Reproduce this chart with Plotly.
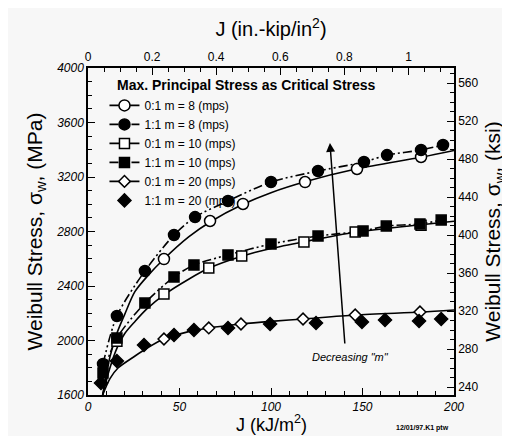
import plotly.graph_objects as go

# J in kJ/m^2, Weibull stress in MPa
j_c8_11 = [8.2, 15.8, 31.1, 47, 58.5, 76.5, 100, 125.7, 150.8, 163.4, 182, 194]
s_c8_11 = [1828, 2180, 2510, 2774, 2906, 3024, 3163, 3244, 3310, 3361, 3398, 3435]

j_o8_01 = [41.5, 66.7, 84.7, 118.6, 147, 182]
s_o8_01 = [2598, 2877, 3002, 3163, 3259, 3347]
fit_j8 = [8, 12, 16, 20, 25.7, 33, 41.5, 55, 66.7, 84.7, 100, 118.6, 147, 182, 200]
fit_s8 = [1600, 1880, 2060, 2190, 2360, 2480, 2598, 2760, 2870, 3000, 3085, 3165, 3260, 3345, 3395]

j_sq_11 = [8.2, 15.8, 31.1, 47, 57.9, 76.5, 100, 125.7, 150.3, 163, 181.4, 193]
s_sq_11 = [1761, 2018, 2275, 2466, 2554, 2628, 2708, 2767, 2804, 2840, 2855, 2884]

j_sq_01 = [15.8, 41.5, 66, 84, 118, 146, 182]
s_sq_01 = [1995, 2341, 2532, 2620, 2723, 2796, 2845]
fit_j10 = [8, 12, 16, 20, 25.7, 32, 41.5, 55, 66, 84, 100, 118, 146, 182, 200]
fit_s10 = [1600, 1800, 1950, 2050, 2140, 2230, 2335, 2450, 2530, 2618, 2675, 2725, 2795, 2850, 2875]

j_d_01 = [41.5, 66, 83.6, 117.5, 146, 181.4]
s_d_01 = [2011, 2092, 2121, 2158, 2187, 2209]
j_d_11 = [7.1, 15.8, 30.6, 47, 57.9, 76.5, 99.5, 124.6, 149.7, 162.3, 180.9, 193]
s_d_11 = [1688, 1850, 1967, 2040, 2077, 2092, 2121, 2128, 2136, 2150, 2143, 2158]
fit_j20 = [8, 12, 16.4, 25.7, 33, 41.5, 55, 66, 84, 100, 118, 146, 182, 200]
fit_s20 = [1600, 1720, 1798, 1886, 1950, 2011, 2065, 2092, 2121, 2140, 2158, 2187, 2209, 2224]

J_CONV = 175.127  # kJ/m^2 per in.-kip/in^2
KSI_RANGE = [231.6, 576]

FONT = "Arial, Liberation Sans, sans-serif"
BLK = "black"
DASHDOT = "9px,3px,2px,3px,2px,3px"

fig = go.Figure()

def curve(x, y, dash="solid"):
    fig.add_trace(go.Scatter(x=x, y=y, mode="lines", line=dict(color=BLK, width=1.6, dash=dash, shape="spline", smoothing=0.8),
                             showlegend=False, hoverinfo="skip"))

def pts(x, y, symbol, size, fill):
    fig.add_trace(go.Scatter(x=x, y=y, mode="markers", showlegend=False,
                             marker=dict(symbol=symbol, size=size, color=fill, line=dict(color=BLK, width=1.5))))

curve(fit_j8, fit_s8)
curve(fit_j10, fit_s10)
curve(fit_j20, fit_s20)
curve(j_c8_11, s_c8_11, DASHDOT)
curve(j_sq_11, s_sq_11, DASHDOT)

pts(j_o8_01, s_o8_01, "circle", 11, "white")
pts(j_c8_11, s_c8_11, "circle", 11, BLK)
pts(j_sq_01, s_sq_01, "square", 10, "white")
pts(j_sq_11, s_sq_11, "square", 10, BLK)
pts(j_d_01, s_d_01, "diamond", 9, "white")
pts(j_d_11, s_d_11, "diamond", 10, BLK)

# legend entries
legend_items = [
    ("0:1 m = 8 (mps)", "circle", 11, "white", "solid", "lines+markers"),
    ("1:1 m = 8 (mps)", "circle", 11, BLK, DASHDOT, "lines+markers"),
    ("0:1 m = 10 (mps)", "square", 10, "white", "solid", "lines+markers"),
    ("1:1 m = 10 (mps)", "square", 10, BLK, DASHDOT, "lines+markers"),
    ("0:1 m = 20 (mps)", "diamond", 9, "white", "solid", "lines+markers"),
    ("1:1 m = 20 (mps)", "diamond", 10, BLK, "solid", "markers"),
]
for name, sym, sz, fill, dash, mode in legend_items:
    fig.add_trace(go.Scatter(x=[None], y=[None], mode=mode, name=name,
                             line=dict(color=BLK, width=1.6, dash=dash),
                             marker=dict(symbol=sym, size=sz, color=fill, line=dict(color=BLK, width=1.5))))

# invisible trace to carry the top and right axes
fig.add_trace(go.Scatter(x=[0], y=[KSI_RANGE[0]], xaxis="x2", yaxis="y2", mode="markers",
                         marker=dict(opacity=0), showlegend=False, hoverinfo="skip"))

tickfont = dict(family=FONT, size=12, color=BLK)
axis_common = dict(showline=True, linecolor=BLK, linewidth=1.5, ticks="inside", ticklen=7, tickwidth=1.3,
                   tickcolor=BLK, showgrid=False, zeroline=False)

fig.update_layout(
    width=510, height=436,
    margin=dict(l=80, r=64, t=60, b=49),
    paper_bgcolor="#f7f7f7", plot_bgcolor="#f7f7f7",
    font=dict(family=FONT, color=BLK),
    xaxis=dict(range=[0, 200], dtick=50, tickfont=dict(family=FONT, size=12, color=BLK, style="italic"),
               minor=dict(dtick=10, ticks="inside", ticklen=4, tickcolor=BLK), **axis_common),
    yaxis=dict(range=[1600, 4000], dtick=400, tickfont=dict(family=FONT, size=12, color=BLK, style="italic"),
               minor=dict(dtick=100, ticks="inside", ticklen=4, tickcolor=BLK),
               title=dict(text="Weibull Stress, σ<sub>w</sub>, (MPa)", font=dict(size=21), standoff=8), **axis_common),
    xaxis2=dict(range=[0, 200 / J_CONV], dtick=0.2, overlaying="x", side="top", anchor="y2", tickfont=tickfont,
                minor=dict(dtick=0.05, ticks="inside", ticklen=4, tickcolor=BLK),
                title=dict(text="J (in.-kip/in<sup>2</sup>)", font=dict(size=20), standoff=8), **axis_common),
    yaxis2=dict(range=KSI_RANGE, dtick=40, overlaying="y", side="right", anchor="x2", tickfont=tickfont,
                minor=dict(dtick=10, ticks="inside", ticklen=4, tickcolor=BLK),
                title=dict(text="Weibull Stress, σ<sub>w</sub>, (ksi)", font=dict(size=21), standoff=8), **axis_common),
    legend=dict(x=0.045, y=0.93, xanchor="left", yanchor="top", bgcolor="rgba(0,0,0,0)",
                font=dict(family=FONT, size=12, color=BLK), tracegroupgap=0, itemwidth=30),
    showlegend=True,
)

fig.add_annotation(x=0.5, y=-0.128, xref="paper", yref="paper", xanchor="center", yanchor="bottom",
                   text="J (kJ/m<sup>2</sup>)", showarrow=False, font=dict(family=FONT, size=18, color=BLK))
fig.add_annotation(x=132.2, y=3450, ax=140.4, ay=1967, xref="x", yref="y", axref="x", ayref="y",
                   showarrow=True, arrowhead=2, arrowsize=1.2, arrowwidth=1.5, arrowcolor=BLK, text="")
fig.add_annotation(x=143.7, y=1880, xref="x", yref="y", text="<i>Decreasing \"m\"</i>", showarrow=False,
                   font=dict(family=FONT, size=11, color=BLK))
fig.add_annotation(x=0.075, y=0.948, xref="paper", yref="paper", xanchor="left", yanchor="middle",
                   text="<b>Max. Principal Stress as Critical Stress</b>", showarrow=False,
                   font=dict(family=FONT, size=14, color=BLK))
fig.add_annotation(x=0.915, y=-0.10, xref="paper", yref="paper", xanchor="center", yanchor="middle",
                   text="<b>12/01/97.K1 ptw</b>", showarrow=False, font=dict(family=FONT, size=7, color=BLK))

fig.write_html("out.html")
